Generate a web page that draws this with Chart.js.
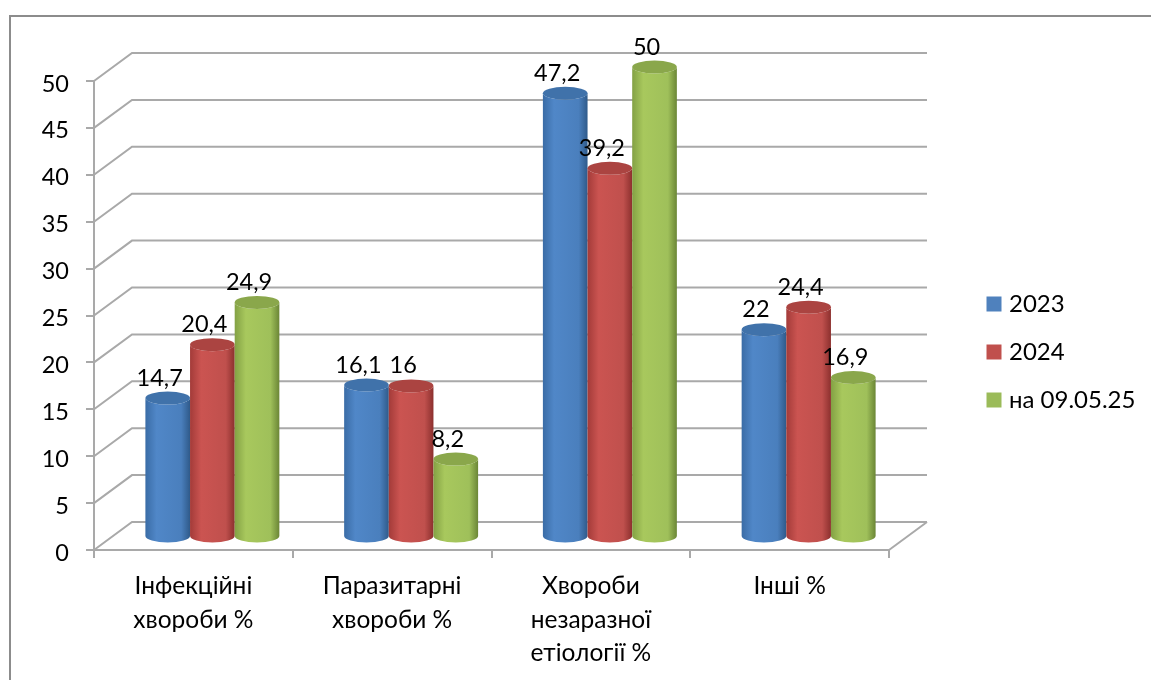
<!DOCTYPE html>
<html>
<head>
<meta charset="utf-8">
<title>Chart</title>
<script src="https://cdn.jsdelivr.net/npm/chart.js@4"></script>
<style>
  html, body { margin: 0; padding: 0; background: #fff; }
  canvas { display: block; }
</style>
</head>
<body>
<canvas id="chart" width="1151" height="680"></canvas>
<script>
const categories = [
    ['Інфекційні', 'хвороби %'],
    ['Паразитарні', 'хвороби %'],
    ['Хвороби', 'незаразної', 'етіології %'],
    ['Інші %']
];
const seriesNames = ['2023', '2024', 'на 09.05.25'];
const values2023 = [14.7, 16.1, 47.2, 22];
const values2024 = [20.4, 16, 39.2, 24.4];
const valuesMay = [24.9, 8.2, 50, 16.9];
const seriesColors = ['#4f81bd', '#c0504d', '#9bbb59'];

// shading across each cylinder: left edge, highlight, right edge, cap
const shades = [
    ['#3a6ca6', '#5087c8', '#4a7fbd', '#2f5a8a', '#4072aa'],
    ['#a33b39', '#cb5451', '#c0504d', '#8c302e', '#ab4441'],
    ['#83a144', '#a8c85d', '#9fc05a', '#6b8636', '#8aa74b']
];

const FONT = 'Lato, sans-serif';
const GRID = '#a9a9a9';
const DEPTH_X = 38;
const DEPTH_Y = 28;
const CAP_RY = 6.5;

function label(value) {
    return String(value).replace('.', ',');
}

// Frame, back wall grid lines and their diagonals to the axis
const wallPlugin = {
    id: 'wall',
    beforeDraw(chart) {
        const { ctx, scales: { y }, chartArea: area } = chart;
        ctx.save();
        ctx.strokeStyle = '#8c8c8c';
        ctx.lineWidth = 2;
        ctx.beginPath();
        ctx.moveTo(10, 680);
        ctx.lineTo(10, 16);
        ctx.lineTo(1151, 16);
        ctx.stroke();

        ctx.strokeStyle = GRID;
        y.ticks.forEach(tick => {
            const py = y.getPixelForValue(tick.value);
            ctx.beginPath();
            ctx.moveTo(area.left, py);
            ctx.lineTo(area.left + DEPTH_X, py - DEPTH_Y);
            ctx.lineTo(area.right + DEPTH_X, py - DEPTH_Y);
            ctx.stroke();
        });
        // right edge of the floor
        ctx.beginPath();
        ctx.moveTo(area.right, area.bottom);
        ctx.lineTo(area.right + DEPTH_X, area.bottom - DEPTH_Y);
        ctx.stroke();
        ctx.restore();
    }
};

// Draws the bars as cylinders standing halfway into the floor
const cylinderPlugin = {
    id: 'cylinders',
    beforeDatasetsDraw(chart) {
        const { ctx, scales: { y } } = chart;
        const base = y.getPixelForValue(0) - DEPTH_Y / 2;
        chart.data.datasets.forEach((dataset, i) => {
            const s = shades[i];
            chart.getDatasetMeta(i).data.forEach(bar => {
                const cx = bar.x + DEPTH_X / 2;
                const top = bar.y - DEPTH_Y / 2;
                const rx = bar.width / 2;
                const grad = ctx.createLinearGradient(cx - rx, 0, cx + rx, 0);
                grad.addColorStop(0, s[0]);
                grad.addColorStop(0.25, s[1]);
                grad.addColorStop(0.8, s[2]);
                grad.addColorStop(1, s[3]);
                ctx.fillStyle = grad;
                ctx.beginPath();
                ctx.moveTo(cx - rx, top);
                ctx.lineTo(cx - rx, base);
                ctx.ellipse(cx, base, rx, CAP_RY, 0, Math.PI, 0, true);
                ctx.lineTo(cx + rx, top);
                ctx.ellipse(cx, top, rx, CAP_RY, 0, 0, Math.PI, false);
                ctx.closePath();
                ctx.fill();
                ctx.fillStyle = s[4];
                ctx.beginPath();
                ctx.ellipse(cx, top, rx, CAP_RY, 0, 0, Math.PI * 2);
                ctx.fill();
            });
        });

        ctx.save();
        ctx.fillStyle = '#000';
        ctx.font = '23.5px ' + FONT;
        ctx.textAlign = 'center';
        ctx.textBaseline = 'middle';
        chart.data.datasets.forEach((dataset, i) => {
            chart.getDatasetMeta(i).data.forEach((bar, j) => {
                ctx.fillText(label(dataset.data[j]), bar.x + 11, bar.y - 34);
            });
        });
        ctx.restore();
        return false;
    }
};

// Moves the legend out to the right of the plot
const legendPlugin = {
    id: 'legendPlace',
    afterLayout(chart) {
        const legend = chart.legend;
        legend.left = 967;
        legend.right = 1151;
        legend.top = 268;
        legend.bottom = 440;
    }
};

// the thick border makes up the legend swatch, keeping it close to its text
function seriesDataset(index, data) {
    return {
        label: seriesNames[index],
        data: data,
        backgroundColor: seriesColors[index],
        borderColor: seriesColors[index],
        borderWidth: 9
    };
}

new Chart(document.getElementById('chart'), {
    type: 'bar',
    data: {
        labels: categories,
        datasets: [
            seriesDataset(0, values2023),
            seriesDataset(1, values2024),
            seriesDataset(2, valuesMay)
        ]
    },
    plugins: [wallPlugin, cylinderPlugin, legendPlugin],
    options: {
        responsive: false,
        animation: false,
        categoryPercentage: 0.674,
        barPercentage: 1,
        layout: { padding: { top: 81, right: 262, left: 0, bottom: 0 } },
        plugins: {
            tooltip: { enabled: false },
            legend: {
                position: 'chartArea',
                align: 'start',
                labels: {
                    color: '#000',
                    font: { family: FONT, size: 24 },
                    boxWidth: 6,
                    boxHeight: 6,
                    padding: 24
                }
            }
        },
        scales: {
            x: {
                afterFit(scale) { scale.height = 130; },
                border: { color: GRID, width: 2 },
                grid: { drawOnChartArea: false, tickLength: 8, color: GRID, lineWidth: 2 },
                ticks: { color: '#000', font: { family: FONT, size: 24.5, lineHeight: 1.35 }, padding: 12, maxRotation: 0 }
            },
            y: {
                min: 0,
                max: 50,
                afterFit(scale) { scale.width = 94; },
                border: { color: GRID, width: 2 },
                grid: { drawOnChartArea: false, tickLength: 8, color: GRID, lineWidth: 2 },
                ticks: { stepSize: 5, color: '#000', font: { family: FONT, size: 23.5 }, padding: 17, labelOffset: 3 }
            }
        }
    }
});
</script>
</body>
</html>
